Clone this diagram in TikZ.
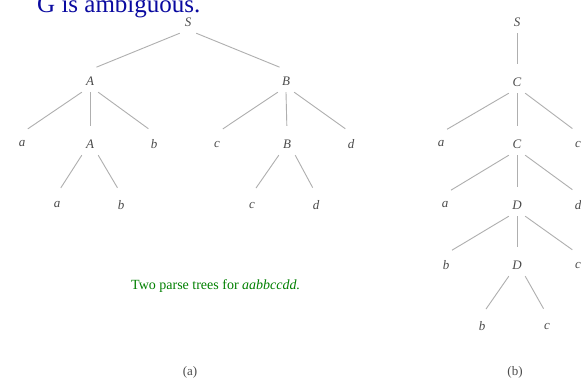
\documentclass[tikz,border=0pt]{standalone}
\usepackage{fontspec}
\setmainfont{Liberation Serif}
\definecolor{titleblue}{RGB}{10,10,160}
\definecolor{capgreen}{RGB}{0,128,0}
\definecolor{labgray}{RGB}{75,75,75}
\definecolor{edgegray}{RGB}{175,175,175}
\begin{document}
\begin{tikzpicture}[x=1pt,y=-1pt,
  tn/.style={inner sep=0pt,minimum width=16pt,minimum height=22pt,
    font=\fontsize{13}{13}\selectfont\itshape,text=labgray},
  br/.style={draw=edgegray,line width=0.9pt,shorten >=7pt},
  sublabel/.style={font=\fontsize{13}{13}\selectfont,text=labgray}]
\clip (0,0) rectangle (581,383);
\fill[white] (0,0) rectangle (581,383);
% title
\node[anchor=base west,inner sep=0pt,text=titleblue,font=\fontsize{25}{25}\selectfont] (title) at (37,12) {G is ambiguous.};
% left tree
\node[tn] (S) at (188,22) {S};
\node[tn] (A1) at (90,81) {A};
\node[tn] (B1) at (286,81) {B};
\node[tn] (a1) at (22,144) {a};
\node[tn] (A2) at (90,144) {A};
\node[tn] (b1) at (154,144) {b};
\node[tn] (c1) at (217,144) {c};
\node[tn] (B2) at (287,144) {B};
\node[tn] (d1) at (351,144) {d};
\node[tn] (a2) at (57,205) {a};
\node[tn] (b2) at (121,205) {b};
\node[tn] (c2) at (252,205) {c};
\node[tn] (d2) at (316,205) {d};
\draw[br] (S.south west) -- (A1.north);
\draw[br] (S.south east) -- (B1.north);
\draw[br] (A1.south west) -- (a1.north);
\draw[br] (A1.south) -- (A2.north);
\draw[br] (A1.south east) -- (b1.north);
\draw[br] (B1.south west) -- (c1.north);
\draw[br] (B1.south) -- (B2.north);
\draw[br] (B1.south east) -- (d1.north);
\draw[br] (A2.south west) -- (a2.north);
\draw[br] (A2.south east) -- (b2.north);
\draw[br] (B2.south west) -- (c2.north);
\draw[br] (B2.south east) -- (d2.north);
% right tree
\node[tn] (RS) at (517,22) {S};
\node[tn] (C1) at (517,82) {C};
\node[tn] (ra1) at (441,144) {a};
\node[tn] (C2) at (517,144) {C};
\node[tn] (rc1) at (578,144) {c};
\node[tn] (ra2) at (445,205) {a};
\node[tn] (D1) at (517,205) {D};
\node[tn] (rd1) at (578,205) {d};
\node[tn] (rb1) at (446,265) {b};
\node[tn] (D2) at (517,265) {D};
\node[tn] (rc2) at (578,265) {c};
\node[tn] (rb2) at (482,326) {b};
\node[tn] (rc3) at (547,326) {c};
\draw[br] (RS.south) -- (C1.north);
\draw[br] (C1.south west) -- (ra1.north);
\draw[br] (C1.south) -- (C2.north);
\draw[br] (C1.south east) -- (rc1.north);
\draw[br] (C2.south west) -- (ra2.north);
\draw[br] (C2.south) -- (D1.north);
\draw[br] (C2.south east) -- (rd1.north);
\draw[br] (D1.south west) -- (rb1.north);
\draw[br] (D1.south) -- (D2.north);
\draw[br] (D1.south east) -- (rc2.north);
\draw[br] (D2.south west) -- (rb2.north);
\draw[br] (D2.south east) -- (rc3.north);
% captions
\node[anchor=base west,inner sep=0pt,text=capgreen,font=\fontsize{14}{14}\selectfont] (caption) at (131,289) {Two parse trees for \textit{aabbccdd.}};
\node[sublabel] (la) at (190,372) {(a)};
\node[sublabel] (lb) at (515,372) {(b)};
\end{tikzpicture}
\end{document}
